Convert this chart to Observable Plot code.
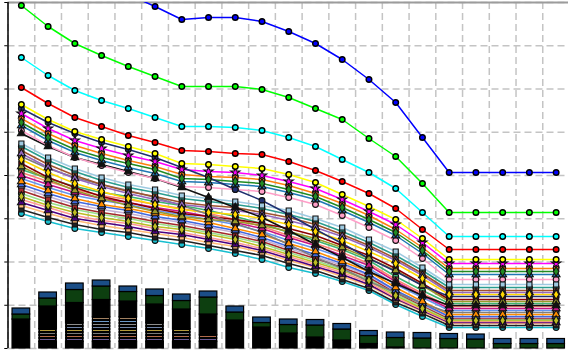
<!DOCTYPE html>
<html><head><meta charset="utf-8">
<script src="https://cdn.jsdelivr.net/npm/d3@7"></script>
<script src="https://cdn.jsdelivr.net/npm/@observablehq/plot@0.6"></script>
<style>html,body{margin:0;padding:0;background:#fff}svg{display:block}</style>
</head><body><div id="chart"></div>
<script>
// x categories (21 steps)
const categories = [0,1,2,3,4,5,6,7,8,9,10,11,12,13,14,15,16,17,18,19,20];
// y grid values (unlabelled axis)
const gridY = [0,43.25,86.5,129.75,173,216.25,259.5,302.75,346];

// line series values
const blue = [427,402,381,367,354,342,329,331,331,327,317,305,289,269,246,211,176,176,176,176,176];
const lime = [343,322,305,293,282,272,262,262,262,259,251,240,229,210,192,165,136,136,136,136,136];
const cyan = [291,273,258,248,240,231,222,222,221,218,211,202,189,176,160,136,112,112,112,112,112];
const red = [261,245,231,222,213,206,198,197,195,194,187,178,167,155,140,119,99,99,99,99,99];
const yellow = [244,229,217,209,202,195,185,184,182,180,174,166,154,142,129,110,89,89,89,89,89];
const navy = [240,226,215,206,199,191,181,171,159,148,134,119,105,90,77,63,52,52,52,52,52];
const magenta = [235,220,208,200,193,187,179,177,176,173,167,160,149,137,124,106,85,85,85,85,85];
const orange = [230,215,203,195,188,182,174,172,171,169,163,155,145,133,119,101,80,80,80,80,80];
const darkGreen = [226,211,199,191,185,179,170,169,167,165,159,152,141,129,116,98,77,77,77,77,77];
const steelBlue = [223,208,196,188,181,175,167,166,164,162,156,149,138,126,113,95,74,74,74,74,74];
const pink = [218,203,191,183,176,170,162,161,159,157,151,144,133,121,108,90,69,69,69,69,69];
const blackTri = [215,202,191,184,177,170,161,151,141,131,118,104,91,77,65,53,43,43,43,43,43];
const lightBlue = [205,191,180,171,164,159,153,150,147,143,138,130,121,109,97,81,64,64,64,64,64];
const teal = [202,188,177,168,161,156,150,147,144,140,134,127,117,106,93,78,61,61,61,61,61];
const brown = [198,184,173,164,157,152,146,143,141,136,131,124,114,103,90,75,58,58,58,58,58];
const purple = [195,181,170,162,155,149,144,141,138,134,128,121,112,101,88,73,56,56,56,56,56];
const gray = [192,180,171,164,158,151,143,134,125,116,104,91,80,67,56,45,36,36,36,36,36];
const gold = [189,176,165,157,150,144,139,136,134,130,124,117,108,97,85,70,54,54,54,54,54];
const darkRed = [185,171,161,152,146,140,135,132,129,125,120,113,103,93,80,65,49,49,49,49,49];
const olive = [182,169,158,150,143,137,132,129,127,123,117,110,101,90,78,63,47,47,47,47,47];
const seaGreen = [179,170,162,156,152,147,143,138,132,125,116,108,99,88,72,58,45,45,45,45,45];
const salmon = [176,167,159,153,149,144,140,135,129,122,113,105,96,85,69,55,42,42,42,42,42];
const violet = [173,164,156,150,146,141,137,132,126,120,111,103,93,83,67,53,40,40,40,40,40];
const cornflower = [170,161,153,148,144,138,134,129,124,117,108,100,91,80,64,51,38,38,38,38,38];
const darkOrange = [167,158,150,144,140,135,131,126,120,114,105,97,87,77,61,47,34,34,34,34,34];
const blueTri = [164,155,147,142,138,132,128,123,118,111,102,94,85,74,58,45,32,32,32,32,32];
const lavender = [161,152,144,139,135,130,126,121,116,109,100,92,83,73,57,44,31,31,31,31,31];
const maroon = [158,149,141,136,132,127,123,118,113,107,98,90,81,71,56,43,30,30,30,30,30];
const lightGreen = [155,146,139,134,130,125,121,116,111,105,96,88,79,69,54,42,29,29,29,29,29];
const silver = [152,143,136,131,127,122,119,114,109,102,94,86,78,68,53,40,28,28,28,28,28];
const peach = [149,141,133,128,125,120,116,111,106,100,92,84,76,66,51,39,27,27,27,27,27];
const indigo = [146,138,130,126,122,117,114,109,104,98,90,82,74,64,50,38,26,26,26,26,26];
const khaki = [143,135,128,123,119,115,111,106,102,96,88,81,72,63,49,37,25,25,25,25,25];
const blackSq = [139,131,124,119,116,111,108,103,98,93,85,78,69,60,46,35,23,23,23,23,23];
const slate = [135,127,120,116,112,108,104,100,95,89,81,75,67,58,44,32,21,21,21,21,21];

// stacked bar segment heights (bottom -> top)
const barBlackLow = [0,7,7,7,7,7,7,7,0,0,0,0,0,0,0,0,0,0,0,0,0];
const stripe1 = [0,3,3,3,3,3,3,3,0,0,0,0,0,0,0,0,0,0,0,0,0];
const stripe2 = [0,3,3,3,3,3,3,3,0,0,0,0,0,0,0,0,0,0,0,0,0];
const stripe3 = [0,3,3,3,3,3,3,0,0,0,0,0,0,0,0,0,0,0,0,0,0];
const stripe4 = [0,3,3,3,3,3,3,0,0,0,0,0,0,0,0,0,0,0,0,0,0];
const stripe5 = [0,0,3,3,3,3,0,0,0,0,0,0,0,0,0,0,0,0,0,0,0];
const stripe6 = [0,0,3,3,3,3,0,0,0,0,0,0,0,0,0,0,0,0,0,0,0];
const stripe7 = [0,0,0,3,3,0,0,0,0,0,0,0,0,0,0,0,0,0,0,0,0];
const stripe8 = [0,0,0,3,3,0,0,0,0,0,0,0,0,0,0,0,0,0,0,0,0];
const barBlackHigh = [29,23,20.5,17.5,16,19,20,21,28,21,15,11,8,4.5,1,0,0,0,0,0,0];
const barGreen = [5,8,13,13.5,9.5,8.5,8.5,17,8,4.5,8.5,12,11,8,9.5,10,9.5,9,4.5,4.5,4.5];
const barBlue = [6,6,6.5,6,5.5,6.5,6.5,6,6,5.5,5.5,5.5,5.5,5,5.5,5.5,5,5,5,5,5];

// styles (kept apart from data)
const lineStyles = [
  ["blue", blue, "#0000ff", "circle"],
  ["lime", lime, "#00ff00", "circle"],
  ["cyan", cyan, "#00ffff", "circle"],
  ["red", red, "#ff0000", "circle"],
  ["slate", slate, "#17becf", "circle"],
  ["blackSq", blackSq, "#222222", "square"],
  ["khaki", khaki, "#ffbb78", "square"],
  ["indigo", indigo, "#4b0082", "triangle"],
  ["peach", peach, "#ff9896", "circle"],
  ["silver", silver, "#bcbd22", "diamond"],
  ["lightGreen", lightGreen, "#98df8a", "circle"],
  ["maroon", maroon, "#a52a2a", "square"],
  ["lavender", lavender, "#c5b0d5", "circle"],
  ["blueTri", blueTri, "#4169e1", "triangle"],
  ["darkOrange", darkOrange, "#ff8c00", "triangle"],
  ["cornflower", cornflower, "#6495ed", "circle"],
  ["violet", violet, "#c71585", "triangle"],
  ["salmon", salmon, "#fa8072", "square"],
  ["seaGreen", seaGreen, "#3cb371", "circle"],
  ["olive", olive, "#9a9a2a", "triangle"],
  ["darkRed", darkRed, "#8b0000", "square"],
  ["gold", gold, "#ffd700", "diamond"],
  ["gray", gray, "#7f7f7f", "circle"],
  ["purple", purple, "#9467bd", "triangle"],
  ["brown", brown, "#a0522d", "square"],
  ["teal", teal, "#2a9d8f", "circle"],
  ["lightBlue", lightBlue, "#9ecae1", "square"],
  ["blackTri", blackTri, "#111111", "triangle"],
  ["pink", pink, "#ff9ec8", "circle"],
  ["steelBlue", steelBlue, "#1f77b4", "triangle"],
  ["darkGreen", darkGreen, "#228b22", "diamond"],
  ["orange", orange, "#ff7f0e", "square"],
  ["magenta", magenta, "#ff00ff", "star"],
  ["navy", navy, "#1f2f6f", "circle"],
  ["yellow", yellow, "#ffff00", "circle"]
];
const mainNames = ["blue", "lime", "cyan", "red", "yellow"];
const barStyles = [
  [barBlackLow, "#000000"], [stripe1, "#6b5b95"], [stripe2, "#b06a4c"], [stripe3, "#7a7a7a"],
  [stripe4, "#b39a3a"], [stripe5, "#6f84a8"], [stripe6, "#8c8c8c"], [stripe7, "#6a98c8"],
  [stripe8, "#a08060"], [barBlackHigh, "#000000"], [barGreen, "#0d3f10"], [barBlue, "#1b4e87"]
];

const points = lineStyles.flatMap(([name, values, color, symbol]) =>
  values.map((v, k) => ({name, i: categories[k], v, color, symbol, main: mainNames.includes(name)})));

const segs = [];
categories.forEach((c, k) => {
  let cum = 0;
  for (const [arr, color] of barStyles) {
    const h = arr[k];
    if (h > 0) { segs.push({i: c, y1: cum, y2: cum + h, color, thin: h <= 3 && color !== "#000000"}); cum += h; }
  }
});

const gridX = [-0.5, ...categories.map(c => c + 0.5)];
const symbols = ["circle", "square", "triangle", "diamond", "star"];

const chart = Plot.plot({
  width: 568, height: 350,
  marginLeft: 7.5, marginRight: -1, marginTop: 2, marginBottom: 2,
  x: {domain: [-0.5, 20.5], axis: null},
  y: {domain: [0, 346], axis: null},
  color: {type: "identity"},
  marks: [
    Plot.ruleX(gridX, {stroke: "#c4c4c4", strokeWidth: 1.5, strokeDasharray: "7,4"}),
    Plot.ruleY(gridY, {stroke: "#c4c4c4", strokeWidth: 1.5, strokeDasharray: "7,4"}),
    Plot.ruleY([346], {stroke: "#9c9c9c", strokeWidth: 2}),
    Plot.rect(segs.filter(d => !d.thin), {x1: d => d.i - 0.33, x2: d => d.i + 0.33, y1: "y1", y2: "y2", fill: "color", stroke: "#000", strokeWidth: 1.2}),
    Plot.rect(segs.filter(d => d.thin), {x1: d => d.i - 0.33, x2: d => d.i + 0.33, y1: "y1", y2: "y2", fill: "color", stroke: "#000", strokeWidth: 2, insetLeft: 0.6, insetRight: 0.6}),
    Plot.line(points.filter(d => !d.main), {x: "i", y: "v", z: "name", stroke: "color", strokeWidth: 1.5, clip: true}),
    Plot.line(points.filter(d => d.main), {x: "i", y: "v", z: "name", stroke: "color", strokeWidth: 1.5, clip: true}),
    ...symbols.map(s => Plot.dot(points.filter(d => d.symbol === s && !d.main), {
      x: "i", y: "v", fill: "color", stroke: "#111", strokeWidth: 1.1, symbol: s, r: 2.9, clip: true
    })),
    Plot.dot(points.filter(d => d.main), {
      x: "i", y: "v", fill: "color", stroke: "#000", strokeWidth: 1.4, r: 2.8, clip: true
    }),
    Plot.ruleX([-0.5], {stroke: "#000", strokeWidth: 1.5}),
    Plot.ruleY(gridY, {x1: -0.62, x2: -0.5, stroke: "#000", strokeWidth: 1})
  ]
});
document.getElementById("chart").append(chart);
</script>
</body></html>
